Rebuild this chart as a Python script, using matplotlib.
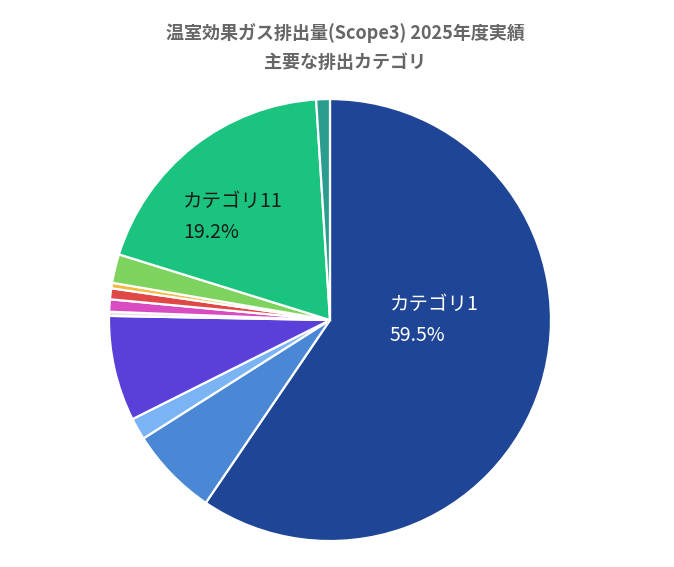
import matplotlib
matplotlib.use("Agg")
import matplotlib.pyplot as plt

plt.rcParams['font.family'] = ['Noto Sans CJK JP', 'DejaVu Sans']

## Data (clockwise from 12 o'clock)

categories = ["カテゴリ1", "カテゴリ2", "カテゴリ3", "カテゴリ4", "カテゴリ5", "カテゴリ6",
              "カテゴリ7", "カテゴリ8", "カテゴリ9", "カテゴリ11", "カテゴリ12"]
shares = [59.5, 6.5, 1.6, 7.7, 0.3, 0.9, 0.8, 0.4, 2.1, 19.2, 1.0]
colors = ["#1f4596", "#4a88d6", "#7ab4f5", "#5a40d8", "#ecdcf2", "#d94bc0",
          "#e04848", "#f5b942", "#7ed35e", "#1ac47f", "#2a9d8f"]

## Figure

fig = plt.figure(figsize=(6.74, 5.67), dpi=100)
ax = fig.add_axes([0.1617, 0.0458, 0.6558, 0.7795])

ax.pie(shares, colors=colors, startangle=90, counterclock=False, radius=1,
       wedgeprops=dict(edgecolor="white", linewidth=1.6))
ax.set_xlim(-1, 1)
ax.set_ylim(-1, 1)
ax.set_aspect("equal")
ax.axis("off")

## Data labels for the two big slices

ax.text(0.271, 0.072, categories[0], color="white", fontsize=14,
        ha="left", va="center")
ax.text(0.271, -0.072, f"{shares[0]}%", color="white", fontsize=14,
        ha="left", va="center")
ax.text(-0.665, 0.538, categories[9], color="#1a1a1a", fontsize=14,
        ha="left", va="center")
ax.text(-0.665, 0.398, f"{shares[9]}%", color="#1a1a1a", fontsize=14,
        ha="left", va="center")

## Title

fig.text(0.512, 0.942, "温室効果ガス排出量(Scope3) 2025年度実績", ha="center",
         va="center", fontsize=13, fontweight="bold", color="#666666")
fig.text(0.512, 0.889, "主要な排出カテゴリ", ha="center", va="center",
         fontsize=13, fontweight="bold", color="#666666")

fig.savefig("out.png", dpi=100)
